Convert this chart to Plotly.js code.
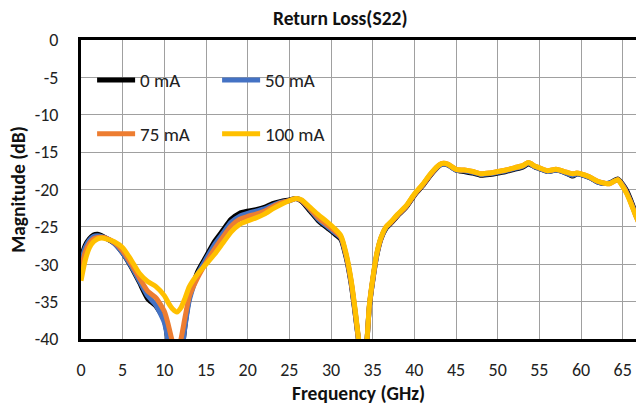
<!DOCTYPE html>
<html>
<head>
<meta charset="utf-8">
<script src="https://cdn.plot.ly/plotly-3.0.1.min.js"></script>
<style>html,body{margin:0;padding:0;background:#fff;}#chart{width:636px;height:408px;}</style>
</head>
<body>
<div id="chart"></div>
<script>
const freq = [0,0.5,1,1.5,2,2.5,3,4,5,6,7,8,9,10,10.5,11,11.5,12,12.5,13,14,15,16,17,18,19,20,21,22,23,24,25,25.8,26.5,27.5,28.5,29.5,30.5,31.2,31.8,32.4,33,33.5,33.8,34.2,34.6,35,35.5,36,36.6,37.2,38,39,40,41,42,43,43.5,44,45,46,47,48,49,50,51,52,53,53.7,54.5,55,56,57,58,59,59.5,60,61,62,63,63.5,64.4,65,65.5,66,66.6,67];

const s0mA = [-29.2,-27.5,-26.6,-26.1,-26.0,-26.2,-26.5,-27.2,-28.5,-30.3,-32.4,-34.6,-35.6,-37.5,-40.5,-45,-47,-43,-38,-34.5,-31.0,-29.0,-27.0,-25.5,-24.0,-23.2,-22.9,-22.7,-22.4,-21.9,-21.6,-21.4,-21.2,-21.6,-22.9,-24.2,-25.1,-26.0,-26.7,-29.0,-32.5,-37.5,-42,-45,-42,-35.8,-32.3,-28.8,-26.6,-25.2,-24.5,-23.5,-22.4,-20.8,-19.5,-18.0,-16.8,-16.6,-16.7,-17.4,-17.6,-17.8,-18.1,-18.0,-17.8,-17.6,-17.3,-17.0,-16.6,-17.0,-17.2,-17.6,-17.4,-17.7,-18.2,-17.9,-18.0,-18.4,-19.0,-19.2,-19.1,-18.6,-19.3,-20.2,-21.5,-23.3,-24.4];

const s50mA = [-29.8,-27.8,-26.8,-26.3,-26.2,-26.3,-26.5,-27.2,-28.5,-30.2,-32.2,-34.2,-35.5,-37.8,-40.5,-44,-46,-42.5,-38.2,-34.8,-31.3,-29.3,-27.4,-25.9,-24.4,-23.6,-23.2,-22.9,-22.6,-22.1,-21.7,-21.5,-21.2,-21.5,-22.7,-24.0,-24.9,-25.8,-26.5,-28.8,-32.3,-37.3,-42,-45,-42,-35.7,-32.2,-28.7,-26.5,-25.1,-24.4,-23.4,-22.3,-20.7,-19.4,-17.9,-16.8,-16.6,-16.7,-17.4,-17.5,-17.7,-18.0,-17.9,-17.7,-17.5,-17.2,-16.9,-16.5,-17.0,-17.2,-17.6,-17.4,-17.7,-18.1,-17.9,-18.0,-18.4,-19.0,-19.2,-19.1,-18.7,-19.4,-20.4,-21.7,-23.5,-24.5];

const s75mA = [-30.8,-28.4,-27.2,-26.6,-26.4,-26.4,-26.5,-27.1,-28.2,-29.9,-31.8,-33.6,-34.5,-36.3,-38.2,-40.5,-42,-40,-37,-34.3,-31.8,-29.8,-28.0,-26.4,-24.9,-24.0,-23.6,-23.3,-22.9,-22.3,-21.8,-21.5,-21.2,-21.5,-22.6,-23.8,-24.7,-25.6,-26.4,-28.7,-32.2,-37.2,-42,-45,-42,-35.6,-32.1,-28.6,-26.5,-25.0,-24.4,-23.4,-22.3,-20.7,-19.4,-17.9,-16.7,-16.5,-16.6,-17.3,-17.4,-17.6,-17.9,-17.8,-17.6,-17.4,-17.1,-16.8,-16.4,-16.9,-17.1,-17.5,-17.3,-17.6,-17.9,-17.8,-17.9,-18.3,-18.9,-19.2,-19.2,-18.7,-19.5,-20.5,-21.8,-23.6,-24.6];

const s100mA = [-32.2,-29.5,-27.8,-27.0,-26.6,-26.5,-26.6,-27.0,-27.8,-29.4,-31.2,-32.3,-33.0,-34.2,-35.2,-36.0,-36.4,-35.8,-34.5,-33.0,-31.3,-30.0,-28.7,-27.2,-25.7,-24.7,-24.2,-23.8,-23.3,-22.6,-22.0,-21.5,-21.2,-21.4,-22.4,-23.4,-24.3,-25.3,-26.2,-28.5,-32.0,-37.0,-42,-45,-42,-35.5,-32.0,-28.5,-26.4,-25.0,-24.3,-23.3,-22.2,-20.6,-19.3,-17.8,-16.7,-16.5,-16.6,-17.3,-17.4,-17.6,-17.9,-17.8,-17.6,-17.4,-17.1,-16.8,-16.4,-16.9,-17.1,-17.5,-17.3,-17.6,-17.9,-17.8,-17.9,-18.3,-18.9,-19.2,-19.2,-18.7,-19.6,-20.6,-21.9,-23.6,-24.6];

const seriesNames = ['0 mA','50 mA','75 mA','100 mA'];
const seriesColors = ['#000000','#4472C4','#ED7D31','#FFC000'];
const seriesLegends = ['legend','legend','legend2','legend2'];
const seriesValues = [s0mA, s50mA, s75mA, s100mA];

const yTickVals = [0,-5,-10,-15,-20,-25,-30,-35,-40];
const yTickText = ['0','-5','-10','-15','-20','-25','-30','-35','-40'];

const FONT = 'Carlito, Lato, "Liberation Sans", sans-serif';

const traces = seriesValues.map((vals, i) => ({
  x: freq, y: vals, type: 'scatter', mode: 'lines',
  name: seriesNames[i],
  legend: seriesLegends[i],
  line: {color: seriesColors[i], width: 5, shape: 'spline', smoothing: 0.6},
  hoverinfo: 'skip'
}));

const layout = {
  width: 636, height: 408,
  margin: {l: 81, r: 0, t: 40, b: 69},
  paper_bgcolor: '#ffffff', plot_bgcolor: '#ffffff',
  font: {family: FONT, color: '#222'},
  title: {text: 'Return Loss(S22)', font: {family: FONT, size: 19.5, color: '#111', weight: 'bold'},
          xref: 'container', x: 0.535, xanchor: 'center', yref: 'container', y: 1 - 18/408, yanchor: 'middle'},
  xaxis: {
    range: [0, 66.6], tick0: 0, dtick: 5, showgrid: true, gridcolor: '#a0a0a0', gridwidth: 1,
    zeroline: false, showline: true, linecolor: '#000', linewidth: 3, mirror: true, ticks: '',
    tickfont: {size: 18, color: '#222'}, ticklabelstandoff: 12,
    title: {text: 'Frequency (GHz)', font: {size: 19.5, color: '#111', weight: 'bold'}, standoff: 6}
  },
  yaxis: {
    range: [-40, 0], tickmode: 'array', tickvals: yTickVals, ticktext: yTickText,
    showgrid: true, gridcolor: '#a0a0a0', gridwidth: 1,
    zeroline: false, showline: true, linecolor: '#000', linewidth: 3, ticks: '',
    tickfont: {size: 18, color: '#222'}, ticklabelstandoff: 16,
    title: {text: 'Magnitude (dB)', font: {size: 19.5, color: '#111', weight: 'bold'}, standoff: 4}
  },
  shapes: [{type: 'rect', xref: 'paper', yref: 'paper', x0: 0.016, x1: 0.454, y0: 0.595, y1: 0.96,
            fillcolor: '#ffffff', line: {width: 0}, layer: 'between'}],
  legend: {orientation: 'h', x: 0.02, xanchor: 'left', y: 0.866, yanchor: 'middle', itemwidth: 38,
           bgcolor: 'rgba(0,0,0,0)', font: {size: 19, color: '#222'}, entrywidth: 72, entrywidthmode: 'pixels', itemclick: false},
  legend2: {orientation: 'h', x: 0.02, xanchor: 'left', y: 0.686, yanchor: 'middle', itemwidth: 38,
           bgcolor: 'rgba(0,0,0,0)', font: {size: 19, color: '#222'}, entrywidth: 72, entrywidthmode: 'pixels', itemclick: false},
  showlegend: true
};

Plotly.newPlot('chart', traces, layout, {displayModeBar: false, staticPlot: true});
</script>
</body>
</html>
